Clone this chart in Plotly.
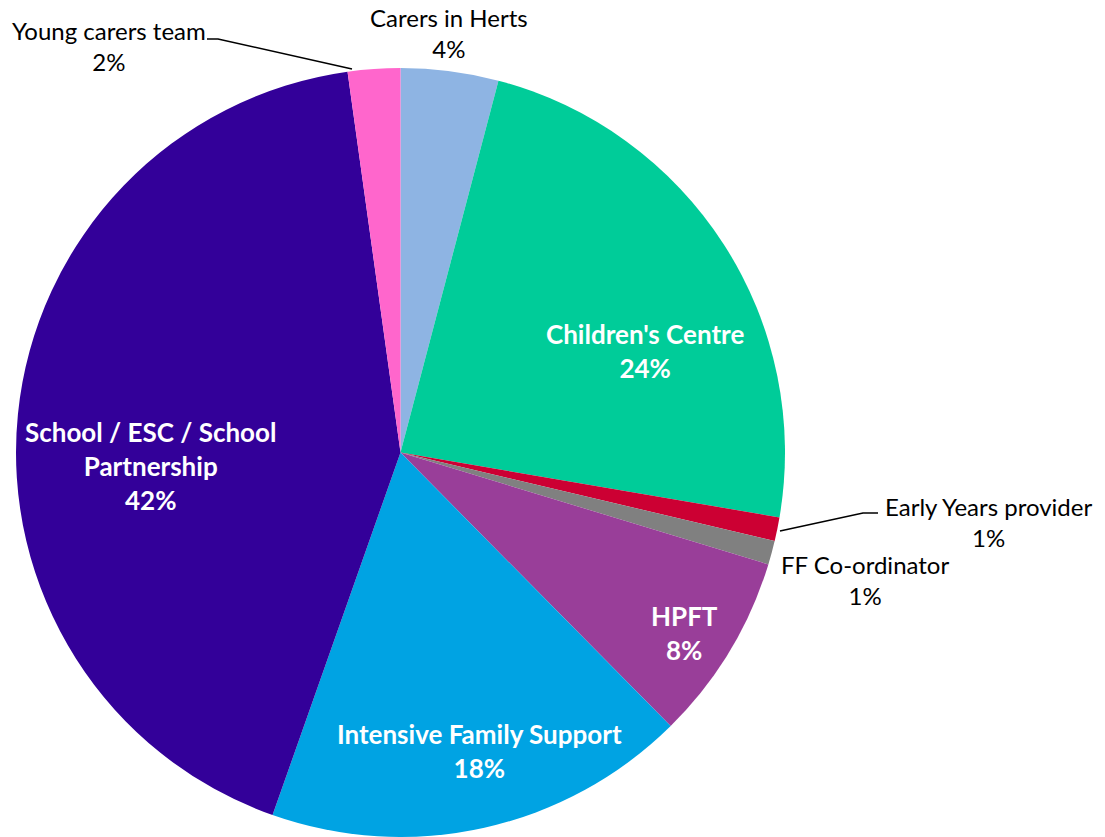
import plotly.graph_objects as go

# slices, clockwise from 12 o'clock
labels = ["Carers in Herts", "Children's Centre", "Early Years provider", "FF Co-ordinator",
          "HPFT", "Intensive Family Support", "School / ESC / School Partnership", "Young carers team"]
shown = ["Carers in Herts", "Children's Centre", "Early Years provider", "FF Co-ordinator",
         "HPFT", "Intensive Family Support", "School / ESC / School<br>Partnership", "Young carers team"]
values = [4.1, 23.6, 1.0, 1.0, 7.9, 17.8, 42.4, 2.2]
colors = ["#8EB4E3", "#00CC99", "#CC0033", "#808080", "#993E99", "#00A3E3", "#330099", "#FF66CC"]
inside = [False, True, False, False, True, True, True, False]

W, H = 1105, 837
FONT = "Lato, 'Open Sans', sans-serif"

fig = go.Figure(go.Pie(
    labels=labels,
    values=values,
    sort=False,
    direction="clockwise",
    rotation=0,
    marker=dict(colors=colors, line=dict(width=0)),
    textinfo="none",
    hoverinfo="label+percent",
    domain=dict(x=[16 / W, 785 / W], y=[0, 1 - 68 / H]),
    showlegend=False,
))

# label positions (pixel centres of each text block)
label_pos = [(449, 33), (645, 351), (988, 522), (865, 580),
             (684, 633), (479, 751), (151, 466), (109, 46)]
tot = sum(values)
for i, (px_, py_) in enumerate(label_pos):
    pct = round(values[i] / tot * 100)
    if inside[i]:
        txt = f"<b>{shown[i]}<br>{pct}%</b>"
        fnt = dict(size=26, family=FONT, color="white")
    else:
        txt = f"{shown[i]}<br>{pct}%"
        fnt = dict(size=24, family=FONT, color="black")
    fig.add_annotation(x=px_ / W, y=1 - py_ / H, xref="paper", yref="paper",
                       xanchor="center", yanchor="middle",
                       text=txt, showarrow=False, font=fnt, align="center")

# leader lines
def seg(pts):
    path = "M " + " L ".join(f"{x / W},{1 - y / H}" for x, y in pts)
    fig.add_shape(type="path", path=path, xref="paper", yref="paper",
                  line=dict(color="black", width=1.5))

seg([(207, 39), (218, 39), (352, 69)])
seg([(878, 513), (863, 513), (780, 531)])

fig.update_layout(
    width=W, height=H,
    margin=dict(l=0, r=0, t=0, b=0),
    paper_bgcolor="white",
    plot_bgcolor="white",
    font=dict(family=FONT),
)

# drop the browser's default 8px body margin so the figure sits at 0,0
fig.write_html("out.html", config={"displayModeBar": False},
               post_script="document.body.style.margin='0';")
